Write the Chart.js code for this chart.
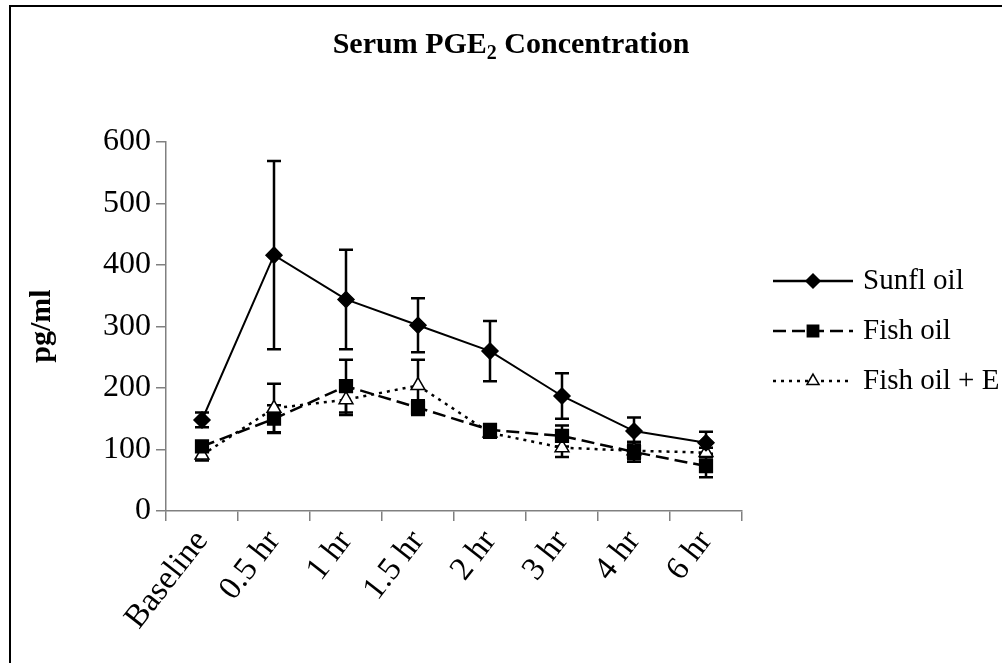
<!DOCTYPE html>
<html>
<head>
<meta charset="utf-8">
<script src="https://cdn.jsdelivr.net/npm/chart.js@4.4.0/dist/chart.umd.min.js"></script>
<style>
  html, body { margin: 0; padding: 0; background: #fff; }
</style>
</head>
<body>
<canvas id="myChart" width="1002" height="663"></canvas>
<script>
/* globals Chart:false */

// Data
const categories = ["Baseline", "0.5 hr", "1 hr", "1.5 hr", "2 hr", "3 hr", "4 hr", "6 hr"];
const sunflOil = [148, 416, 344, 302, 260, 187, 130, 111];
const sunflErr = [12, 153, 81, 44, 49, 37, 22, 18];
const fishOil = [105, 150, 203, 168, 132, 122, 96, 73];
const fishErr = [6, 22, 43, 12, 8, 17, 16, 18];
const fishOilE = [91, 167, 181, 204, 127, 103, 98, 95];
const fishEErr = [9, 40, 25, 42, 8, 15, 14, 8];
const yTicks = [0, 100, 200, 300, 400, 500, 600];

const serif = "'Liberation Serif', 'Times New Roman', serif";

const series = [
  { label: "Sunfl oil", data: sunflOil, err: sunflErr, dash: [], style: "rectRot", radius: 8, fill: "#000" },
  { label: "Fish oil", data: fishOil, err: fishErr, dash: [13, 6], style: "rect", radius: 9, fill: "#000" },
  { label: "Fish oil + E", data: fishOilE, err: fishEErr, dash: [3, 5], style: "triangle", radius: 8, fill: "#fff" },
];

// white page + the outer frame
const framePlugin = {
  id: "frame",
  beforeDraw(chart) {
    const c = chart.ctx;
    c.save();
    c.fillStyle = "#fff";
    c.fillRect(0, 0, chart.width, chart.height);
    c.strokeStyle = "#000";
    c.lineWidth = 2;
    c.strokeRect(10, 6, 1200, 900);
    c.restore();
  },
};

// error bars, drawn through the y scale
const errorBarPlugin = {
  id: "errorBars",
  beforeDatasetsDraw(chart) {
    const c = chart.ctx;
    const y = chart.scales.y;
    c.save();
    c.strokeStyle = "#000";
    c.lineWidth = 2.5;
    chart.data.datasets.forEach((ds, i) => {
      const meta = chart.getDatasetMeta(i);
      meta.data.forEach((pt, j) => {
        const v = ds.data[j];
        const e = ds.errors[j];
        const top = y.getPixelForValue(v + e);
        const bot = y.getPixelForValue(v - e);
        c.beginPath();
        c.moveTo(pt.x, top);
        c.lineTo(pt.x, bot);
        c.moveTo(pt.x - 7, top);
        c.lineTo(pt.x + 7, top);
        c.moveTo(pt.x - 7, bot);
        c.lineTo(pt.x + 7, bot);
        c.stroke();
      });
    });
    c.restore();
  },
};

// title, y axis title and legend
const textPlugin = {
  id: "texts",
  afterDraw(chart) {
    const c = chart.ctx;
    c.save();
    c.fillStyle = "#000";
    c.textBaseline = "alphabetic";

    // title with subscript 2
    const big = "bold 30px " + serif;
    const small = "bold 20px " + serif;
    c.font = big;
    const w1 = c.measureText("Serum PGE").width;
    const w3 = c.measureText(" Concentration").width;
    c.font = small;
    const w2 = c.measureText("2").width;
    let x = 511 - (w1 + w2 + w3) / 2;
    const base = 53;
    c.font = big;
    c.fillText("Serum PGE", x, base);
    c.font = small;
    c.fillText("2", x + w1, base + 6);
    c.font = big;
    c.fillText(" Concentration", x + w1 + w2, base);

    // y axis title
    c.save();
    c.translate(42, 326);
    c.rotate(-Math.PI / 2);
    c.font = "bold 30px " + serif;
    c.textAlign = "center";
    c.textBaseline = "middle";
    c.fillText("pg/ml", 0, 0);
    c.restore();

    // legend
    series.forEach((s, i) => {
      const ly = 281 + i * 50;
      c.strokeStyle = "#000";
      c.lineWidth = 2.5;
      c.setLineDash(s.dash);
      c.beginPath();
      c.moveTo(773, ly);
      c.lineTo(853, ly);
      c.stroke();
      c.setLineDash([]);
      c.fillStyle = s.fill;
      c.lineWidth = 1.5;
      Chart.helpers.drawPoint(c, { pointStyle: s.style, radius: s.radius - 1, rotation: 0, borderWidth: 1.5 }, 813, ly);
      c.fillStyle = "#000";
      c.font = "29px " + serif;
      c.textBaseline = "middle";
      c.textAlign = "left";
      c.fillText(s.label, 863, ly);
    });
    c.restore();
  },
};

const ctx = document.getElementById("myChart");
// eslint-disable-next-line no-unused-vars
const myChart = new Chart(ctx, {
  type: "line",
  data: {
    labels: categories,
    datasets: series.map((s) => ({
      label: s.label,
      data: s.data,
      errors: s.err,
      borderColor: "#000",
      borderWidth: s.dash.length ? 2.5 : 2,
      borderDash: s.dash,
      lineTension: 0,
      fill: false,
      pointStyle: s.style,
      pointRadius: s.radius,
      pointBackgroundColor: s.fill,
      pointBorderColor: "#000",
      pointBorderWidth: 1.5,
    })),
  },
  options: {
    responsive: false,
    animation: false,
    layout: { padding: { left: 0, right: 260, top: 142, bottom: 0 } },
    plugins: {
      legend: { display: false },
      title: { display: false },
      tooltip: { enabled: false },
    },
    scales: {
      x: {
        offset: true,
        grid: { offset: true, drawOnChartArea: false, color: "#808080", tickLength: 10, lineWidth: 1.5 },
        border: { color: "#808080", width: 1.5 },
        ticks: {
          color: "#000",
          font: { family: serif, size: 33 },
          minRotation: 52,
          maxRotation: 52,
          padding: 2,
        },
        afterFit(scale) {
          scale.height = 152;
        },
      },
      y: {
        min: 0,
        max: 600,
        afterBuildTicks(scale) {
          scale.ticks = yTicks.map((v) => ({ value: v }));
        },
        grid: { drawOnChartArea: false, color: "#808080", tickLength: 10, lineWidth: 1.5 },
        border: { color: "#808080", width: 1.5 },
        ticks: {
          color: "#000",
          font: { family: serif, size: 32 },
          padding: 5,
        },
        afterFit(scale) {
          scale.width = 166;
        },
      },
    },
  },
  plugins: [framePlugin, errorBarPlugin, textPlugin],
});
</script>
</body>
</html>
